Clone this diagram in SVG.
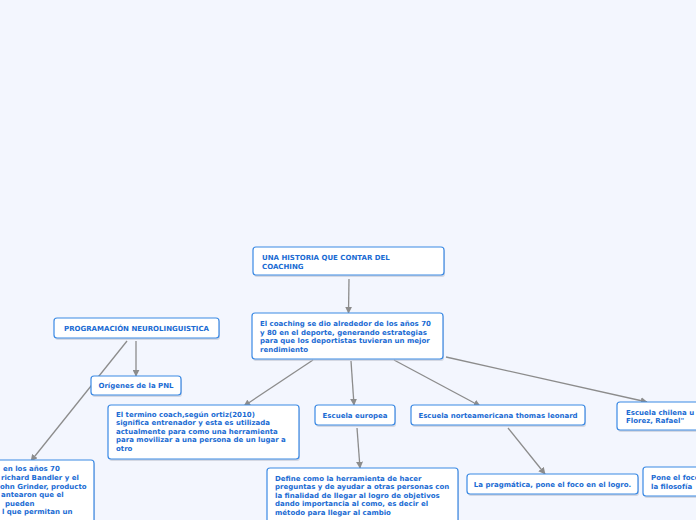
<svg xmlns="http://www.w3.org/2000/svg" width="696" height="520" viewBox="0 0 696 520">
<defs>
<style>
.bg{fill:#f3f6fe}
.box{fill:#ffffff;stroke:#3a89e4;stroke-width:1.2}
.sh{fill:#b9c0cc;opacity:0.55}
.t{font-family:"DejaVu Sans",Verdana,sans-serif;font-weight:bold;font-size:7px;fill:#1a6bd3}
.c{fill:none;stroke:#8c8c8c;stroke-width:1.3}
</style>
<marker id="ah" viewBox="0 0 10 10" refX="9" refY="5" markerWidth="7" markerHeight="7" markerUnits="userSpaceOnUse" orient="auto">
<path d="M0,0 L10,5 L0,10 z" fill="#8c8c8c"/>
</marker>
</defs>
<rect class="bg" x="0" y="0" width="696" height="520"/>

<g id="connectors">
<line class="c" x1="349" y1="279" x2="348.5" y2="313" marker-end="url(#ah)"/>
<line class="c" x1="136" y1="341" x2="136" y2="376" marker-end="url(#ah)"/>
<line class="c" x1="127" y1="341" x2="31" y2="461" marker-end="url(#ah)"/>
<line class="c" x1="313" y1="360" x2="244" y2="406" marker-end="url(#ah)"/>
<line class="c" x1="351" y1="361" x2="354" y2="405" marker-end="url(#ah)"/>
<line class="c" x1="394" y1="360" x2="480" y2="406" marker-end="url(#ah)"/>
<line class="c" x1="446" y1="357" x2="647" y2="402" marker-end="url(#ah)"/>
<line class="c" x1="357" y1="428" x2="360" y2="468" marker-end="url(#ah)"/>
<line class="c" x1="508" y1="428" x2="545" y2="474" marker-end="url(#ah)"/>
</g>

<g id="n-historia">
<rect class="sh" x="254" y="249" width="191" height="28" rx="3"/>
<rect class="box" x="253" y="247" width="191" height="28" rx="3"/>
<text class="t" x="262" y="260">UNA HISTORIA QUE CONTAR DEL</text>
<text class="t" x="262" y="268.5">COACHING</text>
</g>

<g id="n-coaching">
<rect class="sh" x="253" y="315" width="191" height="46" rx="3"/>
<rect class="box" x="252" y="313" width="191" height="46" rx="3"/>
<text class="t" x="260" y="326">El coaching se dio alrededor de los años 70</text>
<text class="t" x="260" y="334.5">y 80 en el deporte, generando estrategias</text>
<text class="t" x="260" y="343">para que los deportistas tuvieran un mejor</text>
<text class="t" x="260" y="351.5">rendimiento</text>
</g>

<g id="n-pnl">
<rect class="sh" x="55" y="320" width="165" height="20" rx="3"/>
<rect class="box" x="54" y="318" width="165" height="20" rx="3"/>
<text class="t" x="136.5" y="330.5" text-anchor="middle">PROGRAMACIÓN NEUROLINGUISTICA</text>
</g>

<g id="n-origenes">
<rect class="sh" x="92" y="378" width="90" height="19" rx="3"/>
<rect class="box" x="91" y="376" width="90" height="19" rx="3"/>
<text class="t" x="136" y="388" text-anchor="middle">Orígenes de la PNL</text>
</g>

<g id="n-pnl-texto">
<rect class="sh" x="-20" y="462" width="115" height="70" rx="3"/>
<rect class="box" x="-21" y="460" width="115" height="70" rx="3"/>
<text class="t" x="3" y="471">en los años 70</text>
<text class="t" x="1" y="480">richard Bandler y el</text>
<text class="t" x="0" y="488.5">ohn Grinder, producto</text>
<text class="t" x="1" y="497">antearon que el</text>
<text class="t" x="5" y="505.5">pueden</text>
<text class="t" x="2" y="514">l que permitan un</text>
</g>

<g id="n-termino">
<rect class="sh" x="109" y="407" width="191" height="54" rx="3"/>
<rect class="box" x="108" y="405" width="191" height="54" rx="3"/>
<text class="t" x="116" y="416.5">El termino coach,según ortiz(2010)</text>
<text class="t" x="116" y="425">significa entrenador y esta es utilizada</text>
<text class="t" x="116" y="433.5">actualmente para como una herramienta</text>
<text class="t" x="116" y="442">para movilizar a una persona de un lugar a</text>
<text class="t" x="116" y="450.5">otro</text>
</g>

<g id="n-europea">
<rect class="sh" x="316" y="407" width="80" height="20" rx="3"/>
<rect class="box" x="315" y="405" width="80" height="20" rx="3"/>
<text class="t" x="355" y="417.5" text-anchor="middle">Escuela europea</text>
</g>

<g id="n-norteamericana">
<rect class="sh" x="412" y="407" width="174" height="20" rx="3"/>
<rect class="box" x="411" y="405" width="174" height="20" rx="3"/>
<text class="t" x="498" y="417.5" text-anchor="middle">Escuela norteamericana thomas leonard</text>
</g>

<g id="n-chilena">
<rect class="sh" x="618" y="404" width="100" height="28" rx="3"/>
<rect class="box" x="617" y="402" width="100" height="28" rx="3"/>
<text class="t" x="626" y="414.5">Escuela chilena u</text>
<text class="t" x="626" y="423">Florez, Rafael"</text>
</g>

<g id="n-define">
<rect class="sh" x="268" y="470" width="191" height="60" rx="3"/>
<rect class="box" x="267" y="468" width="191" height="60" rx="3"/>
<text class="t" x="275" y="480.5">Define como la herramienta de hacer</text>
<text class="t" x="275" y="489">preguntas y de ayudar a otras personas con</text>
<text class="t" x="275" y="497.5">la finalidad de llegar al logro de objetivos</text>
<text class="t" x="275" y="506">dando importancia al como, es decir el</text>
<text class="t" x="275" y="514.5">método para llegar al cambio</text>
</g>

<g id="n-pragmatica">
<rect class="sh" x="468" y="476" width="171" height="20" rx="3"/>
<rect class="box" x="467" y="474" width="171" height="20" rx="3"/>
<text class="t" x="552.5" y="486.5" text-anchor="middle">La pragmática, pone el foco en el logro.</text>
</g>

<g id="n-foco">
<rect class="sh" x="644" y="469" width="80" height="29" rx="3"/>
<rect class="box" x="643" y="467" width="80" height="29" rx="3"/>
<text class="t" x="651" y="480">Pone el foco</text>
<text class="t" x="651" y="488.5">la filosofía</text>
</g>
</svg>
